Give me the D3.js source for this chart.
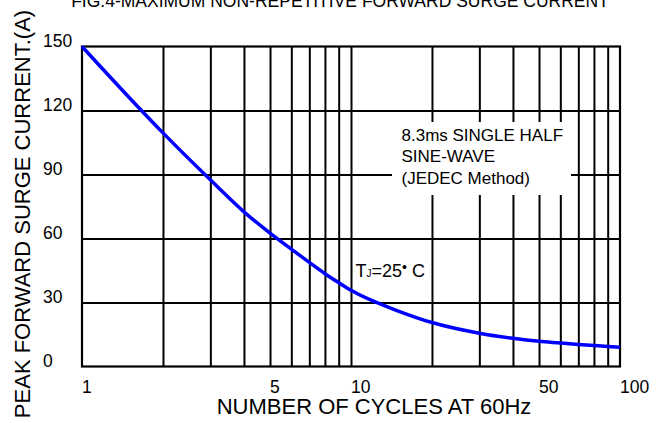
<!DOCTYPE html>
<html>
<head>
<meta charset="utf-8">
<script src="https://cdn.jsdelivr.net/npm/d3@7"></script>
<style>
  body { margin: 0; background: #fff; }
  svg { display: block; }
  text { font-family: Arial, "Liberation Sans", sans-serif; fill: #000; }
</style>
</head>
<body>
<svg id="chart" width="666" height="423"></svg>
<script>
// Surge current vs. number of 60 Hz cycles
const cycles     = [1, 1.5, 2, 3, 4, 5, 6, 7, 8, 9, 10, 15, 20, 30, 40, 50, 60, 70, 80, 90, 100];
const surgeAmps  = [150, 126, 109.5, 87.5, 72.5, 62.5, 55, 48.8, 43.5, 39.3, 35.7, 26, 20.6, 15.6, 13.2, 11.8, 11.0, 10.3, 9.8, 9.4, 9.0];
const xTickLabels = [1, 5, 10, 50, 100];
const xGridValues = [2, 3, 4, 5, 6, 7, 8, 9, 10, 20, 30, 40, 50, 60, 70, 80, 90];
const yTickLabels = [0, 30, 60, 90, 120, 150];
const yGridValues = [30, 60, 90, 120];
const noteLines = ["8.3ms SINGLE HALF", "SINE-WAVE", "(JEDEC Method)"];

const svg = d3.select("#chart");
const plotL = 82, plotR = 620, plotT = 46.5, plotB = 366.5;
const W = plotR - plotL, H = plotB - plotT;

const x = d3.scaleLog().domain([1, 100]).range([plotL, plotR]);
const y = d3.scaleLinear().domain([0, 150]).range([plotB, plotT]);

// Title (sits partly above the page edge)
svg.append("text")
  .attr("x", 340).attr("y", 6.5)
  .attr("text-anchor", "middle")
  .style("font-size", "17.5px")
  .text("FIG.4-MAXIMUM NON-REPETITIVE FORWARD SURGE CURRENT");

// Vertical grid
svg.append("g")
  .attr("transform", `translate(0,${plotB})`)
  .call(d3.axisBottom(x).tickValues(xGridValues).tickSize(-H).tickFormat(""))
  .call(g => g.select(".domain").remove())
  .call(g => g.selectAll("line").attr("stroke", "#000").attr("stroke-width", 2));

// Horizontal grid
svg.append("g")
  .attr("transform", `translate(${plotL},0)`)
  .call(d3.axisLeft(y).tickValues(yGridValues).tickSize(-W).tickFormat(""))
  .call(g => g.select(".domain").remove())
  .call(g => g.selectAll("line").attr("stroke", "#000").attr("stroke-width", 2));

// Note box clears the grid behind the test-condition text
svg.append("rect")
  .attr("x", 392).attr("y", 122).attr("width", 179).attr("height", 73)
  .attr("fill", "#fff");

const note = svg.append("text").style("font-size", "17px");
noteLines.forEach((t, i) => {
  note.append("tspan").attr("x", 401.5).attr("y", 140.5 + i * 21.7).text(t);
});

// Junction temperature label
const tj = svg.append("text").attr("x", 355.5).attr("y", 276.7).style("font-size", "18px");
tj.append("tspan").text("T");
tj.append("tspan").style("font-size", "10px").text("J");
tj.append("tspan").text("=25");
tj.append("tspan").style("font-size", "14px").attr("dy", -4.5).text("•");
tj.append("tspan").attr("dy", 4.5).text(" C");

// Plot frame
svg.append("rect")
  .attr("x", plotL).attr("y", plotT).attr("width", W).attr("height", H)
  .attr("fill", "none").attr("stroke", "#000").attr("stroke-width", 2.2);

// Surge current curve
const pts = cycles.map((c, i) => [c, surgeAmps[i]]);
svg.append("path")
  .datum(pts)
  .attr("fill", "none")
  .attr("stroke", "#0000ff")
  .attr("stroke-width", 3.5)
  .attr("d", d3.line().x(d => x(d[0])).y(d => y(d[1])).curve(d3.curveMonotoneX));

// X tick labels
svg.append("g")
  .attr("transform", `translate(0,${plotB})`)
  .call(d3.axisBottom(x).tickValues(xTickLabels).tickSize(0).tickFormat(d3.format("d")))
  .call(g => g.select(".domain").remove())
  .call(g => g.selectAll("text")
    .attr("dy", null).attr("y", 392.5 - plotB).attr("x", -0.5)
    .attr("text-anchor", "start")
    .style("font-size", "17.5px").attr("font-family", null));

// Y tick labels
svg.append("g")
  .attr("transform", `translate(${plotL},0)`)
  .call(d3.axisLeft(y).tickValues(yTickLabels).tickSize(0))
  .call(g => g.select(".domain").remove())
  .call(g => g.selectAll("text")
    .attr("dy", null).attr("x", 43 - plotL)
    .attr("text-anchor", "start")
    .style("font-size", "17.5px").attr("font-family", null));

// Axis titles
svg.append("text")
  .attr("x", 374).attr("y", 414)
  .attr("text-anchor", "middle")
  .style("font-size", "22px")
  .text("NUMBER OF CYCLES AT 60Hz");

svg.append("text")
  .attr("transform", "translate(30,214) rotate(-90)")
  .attr("text-anchor", "middle")
  .style("font-size", "22px")
  .text("PEAK FORWARD SURGE CURRENT.(A)");
</script>
</body>
</html>
